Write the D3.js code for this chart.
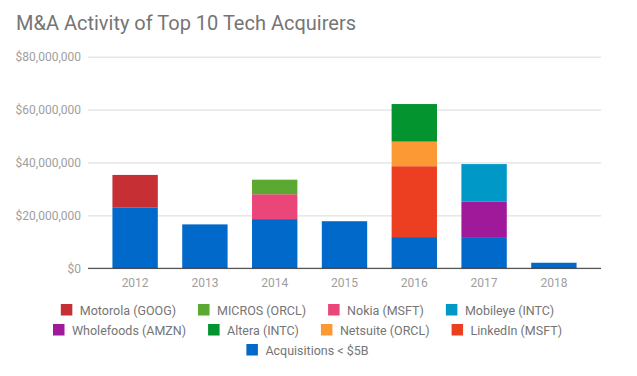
<!DOCTYPE html>
<html>
<head>
<meta charset="utf-8">
<script src="https://cdn.jsdelivr.net/npm/d3@7"></script>
<style>
  body { margin: 0; background: #fff; }
  svg { display: block; font-family: Roboto, sans-serif; }
</style>
</head>
<body>
<main></main>
<script>
const sizeOfSVG = { width: 637, height: 376 };

// data (dollar values)
const years = ['2012', '2013', '2014', '2015', '2016', '2017', '2018'];
const acquisitions = [22900000, 16600000, 18600000, 17800000, 11800000, 11800000, 2100000];
const linkedin = [0, 0, 0, 0, 26800000, 0, 0];
const netsuite = [0, 0, 0, 0, 9300000, 0, 0];
const altera = [0, 0, 0, 0, 14200000, 0, 0];
const wholefoods = [0, 0, 0, 0, 0, 13500000, 0];
const mobileye = [0, 0, 0, 0, 0, 14100000, 0];
const nokia = [0, 0, 9400000, 0, 0, 0, 0];
const micros = [0, 0, 5500000, 0, 0, 0, 0];
const motorola = [12400000, 0, 0, 0, 0, 0, 0];
const yTicks = [0, 20000000, 40000000, 60000000, 80000000];

// stacking order, bottom first
const series = [
  { name: 'Acquisitions < $5B', values: acquisitions, color: '#0169c9' },
  { name: 'LinkedIn (MSFT)', values: linkedin, color: '#ec3f22' },
  { name: 'Netsuite (ORCL)', values: netsuite, color: '#fd9934' },
  { name: 'Altera (INTC)', values: altera, color: '#03932f' },
  { name: 'Wholefoods (AMZN)', values: wholefoods, color: '#a1199b' },
  { name: 'Mobileye (INTC)', values: mobileye, color: '#0098c6' },
  { name: 'Nokia (MSFT)', values: nokia, color: '#eb4679' },
  { name: 'MICROS (ORCL)', values: micros, color: '#5ba832' },
  { name: 'Motorola (GOOG)', values: motorola, color: '#c62f33' }
];

const legendRows = [
  ['Motorola (GOOG)', 'MICROS (ORCL)', 'Nokia (MSFT)', 'Mobileye (INTC)'],
  ['Wholefoods (AMZN)', 'Altera (INTC)', 'Netsuite (ORCL)', 'LinkedIn (MSFT)'],
  ['Acquisitions < $5B']
];

const svg = d3.select('main')
  .append('svg')
  .attr('width', sizeOfSVG.width)
  .attr('height', sizeOfSVG.height);

svg.append('text')
  .attr('x', 16)
  .attr('y', 30)
  .attr('fill', '#757575')
  .style('font-size', '20px')
  .text('M&A Activity of Top 10 Tech Acquirers');

const xScale = d3.scaleBand()
  .domain(years)
  .range([88, 601])
  .paddingInner(0.35)
  .paddingOuter(0.35);

const yScale = d3.scaleLinear()
  .domain([0, 80000000])
  .range([268.3, 56.7]);

// gridlines + y labels
const yAxis = svg.append('g')
  .attr('transform', 'translate(88,0)')
  .call(d3.axisLeft(yScale)
    .tickValues(yTicks)
    .tickSize(-513)
    .tickPadding(7)
    .tickFormat(d => '$' + d3.format(',')(d)));
yAxis.select('.domain').remove();
yAxis.selectAll('line').attr('stroke', '#d9d9d9');
yAxis.selectAll('text')
  .attr('fill', '#9e9e9e')
  .style('font-size', '12px')
  .style('font-family', 'Roboto, sans-serif');

// stacked bars
const table = years.map((y, i) => {
  const row = { year: y };
  series.forEach(s => { row[s.name] = s.values[i]; });
  return row;
});
const stacked = d3.stack().keys(series.map(s => s.name))(table);

svg.append('g')
  .selectAll('g')
  .data(stacked)
  .join('g')
    .attr('fill', (d, i) => series[i].color)
  .selectAll('rect')
  .data(d => d.filter(p => p[1] > p[0]))
  .join('rect')
    .attr('x', d => xScale(d.data.year))
    .attr('width', xScale.bandwidth())
    .attr('y', d => yScale(d[1]))
    .attr('height', d => yScale(d[0]) - yScale(d[1]));

// baseline
svg.append('line')
  .attr('x1', 88).attr('x2', 601)
  .attr('y1', yScale(0)).attr('y2', yScale(0))
  .attr('stroke', '#333')
  .attr('stroke-width', 1);

// x labels
const xAxis = svg.append('g')
  .attr('transform', `translate(0,${yScale(0)})`)
  .call(d3.axisBottom(xScale).tickSize(0).tickPadding(10));
xAxis.select('.domain').remove();
xAxis.selectAll('text')
  .attr('fill', '#9e9e9e')
  .style('font-size', '12px')
  .style('font-family', 'Roboto, sans-serif');

// legend
const colorOf = name => series.find(s => s.name === name).color;
const legendCenter = 307.5;
legendRows.forEach((row, r) => {
  const g = svg.append('g');
  let x = 0;
  row.forEach((name, k) => {
    const item = g.append('g').attr('transform', `translate(${x},0)`);
    item.append('rect')
      .attr('x', 0).attr('y', -6)
      .attr('width', 11.5).attr('height', 11.5)
      .attr('fill', colorOf(name));
    const t = item.append('text')
      .attr('x', 19)
      .attr('y', 4.5)
      .attr('fill', '#757575')
      .style('font-size', '12.5px')
      .text(name);
    x += 19 + t.node().getComputedTextLength() + (k < row.length - 1 ? 22 : 0);
  });
  g.attr('transform', `translate(${legendCenter - x / 2},${310 + r * 20})`);
});
</script>
</body>
</html>
